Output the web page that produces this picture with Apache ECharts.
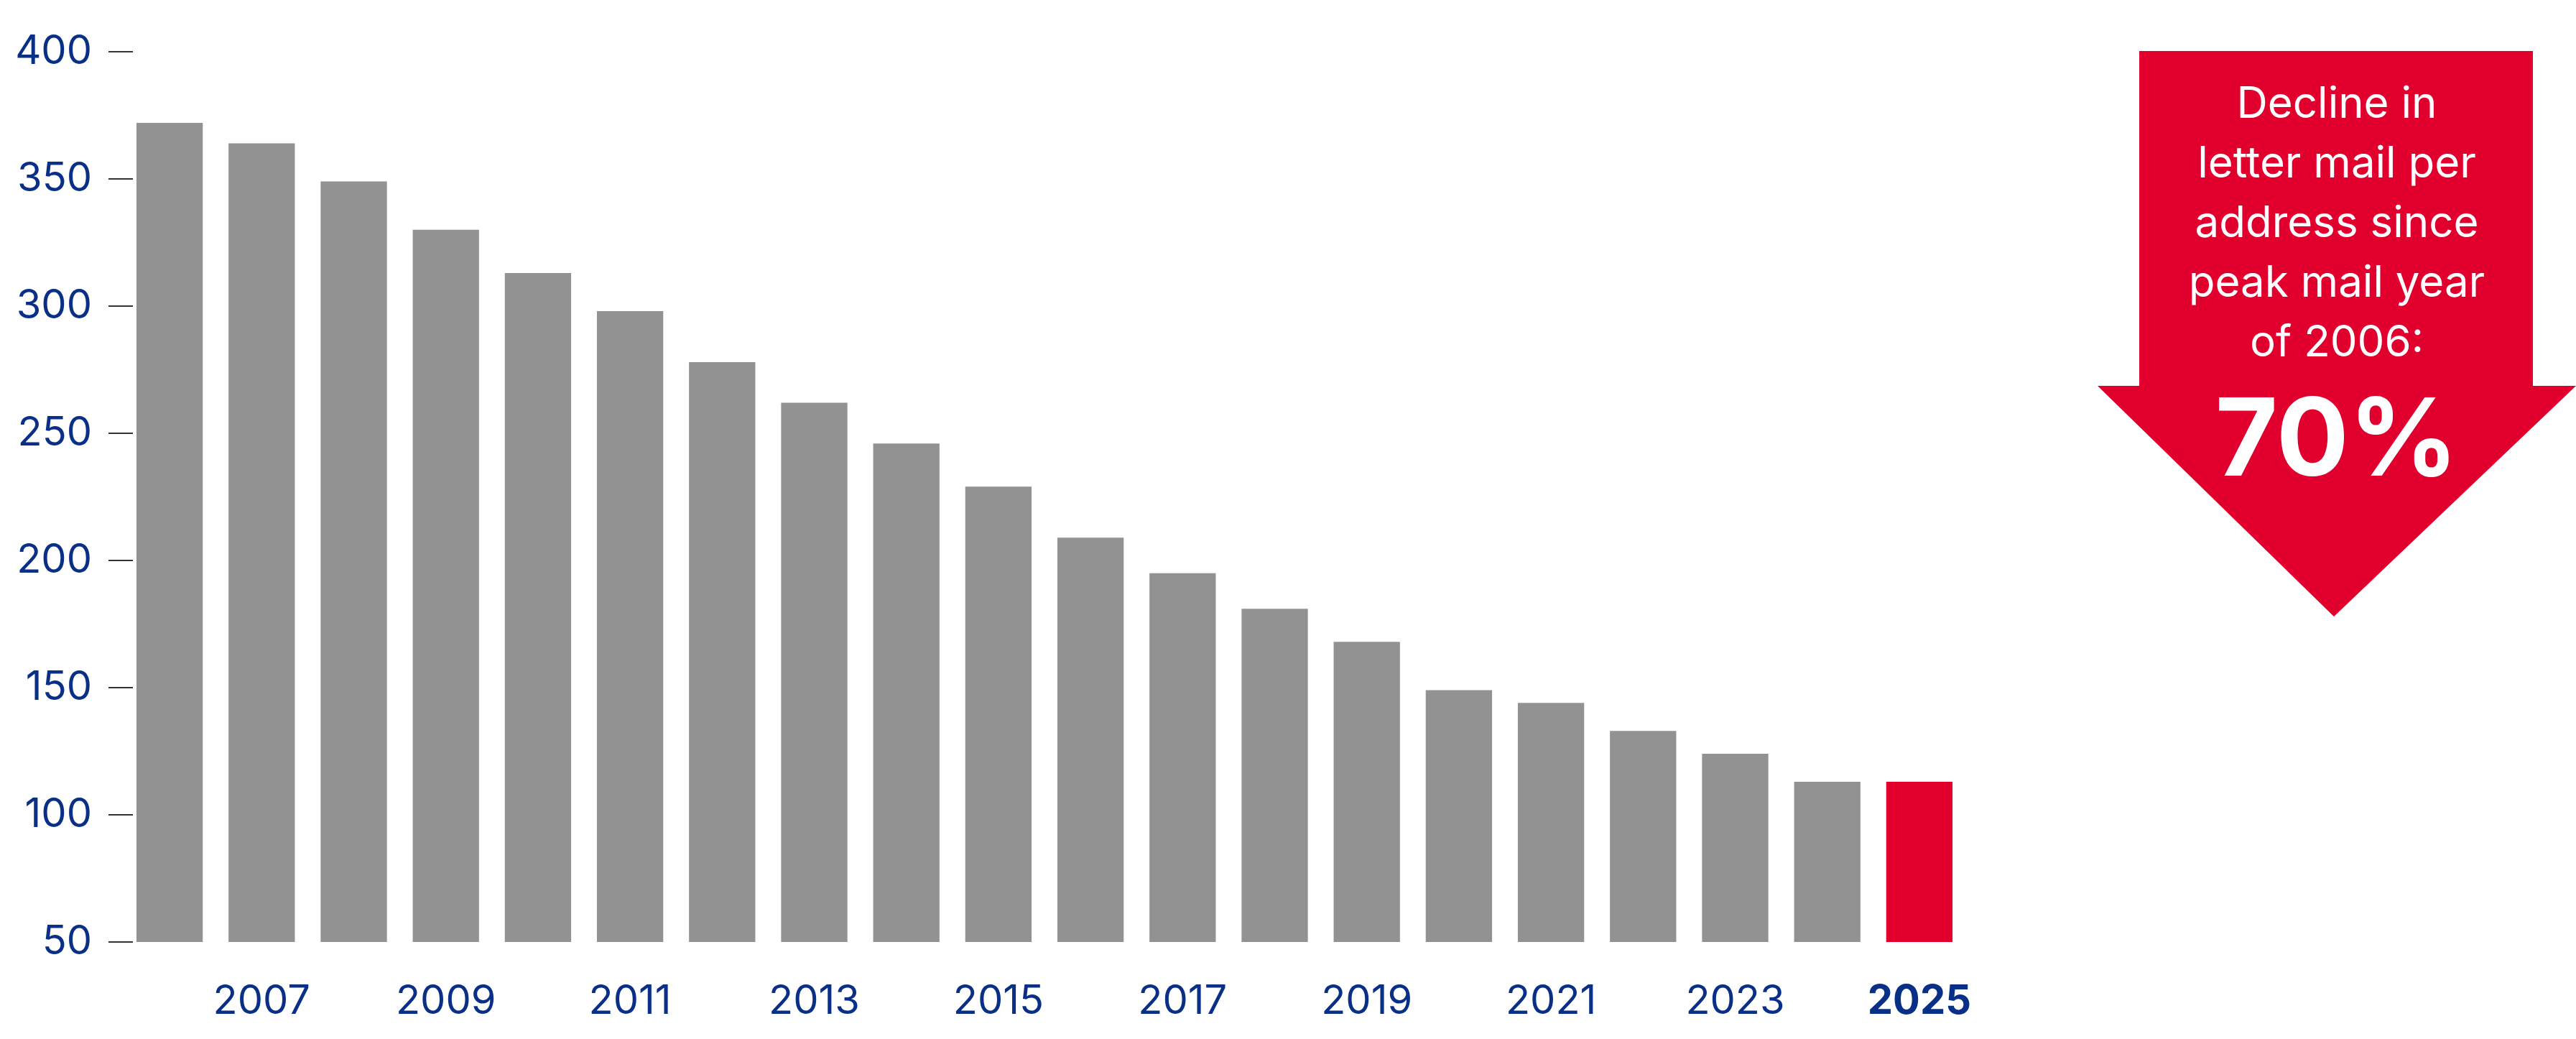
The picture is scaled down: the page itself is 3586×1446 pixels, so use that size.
<!DOCTYPE html>
<html>
<head>
<meta charset="utf-8">
<script src="https://cdn.jsdelivr.net/npm/echarts@6/dist/echarts.min.js"></script>
<style>
html,body{margin:0;padding:0;background:#fff;}
#main{width:3586px;height:1446px;}
</style>
</head>
<body>
<div id="main"></div>
<script>
var years = ['2006','2007','2008','2009','2010','2011','2012','2013','2014','2015','2016','2017','2018','2019','2020','2021','2022','2023','2024','2025'];
var lettersPerAddress = [372,364,349,330,313,298,278,262,246,229,209,195,181,168,149,144,133,124,113,113];
var yTicks = [50,100,150,200,250,300,350,400];
var calloutLines = ['Decline in','letter mail per','address since','peak mail year','of 2006:'];
var calloutValue = '70%';

var GRAY = '#929292', RED = '#E1002D', BLUE = '#0A2F86';
var FONT = 'Inter, "Noto Sans", sans-serif';

var chart = echarts.init(document.getElementById('main'), null, {renderer:'canvas'});

var barData = lettersPerAddress.map(function(v, i){
  return {value: v, itemStyle: {color: i === lettersPerAddress.length - 1 ? RED : GRAY}};
});

var textEls = calloutLines.map(function(t, i){
  return {type:'text', left: null, x: 3253, y: 146 + i*83,
    style:{text:t, fill:'#fff', font:'400 60px ' + FONT, textAlign:'center', textVerticalAlign:'middle'}};
});

chart.setOption({
  animation:false,
  backgroundColor:'#fff',
  grid:{left:172, right:850, top:72, bottom:135, containLabel:false},
  xAxis:{
    type:'category', data: years,
    axisLine:{show:false}, axisTick:{show:false},
    axisLabel:{
      interval: function(idx){ return idx % 2 === 1; },
      color: BLUE, fontSize:56, fontFamily:FONT, margin:55,
      formatter: function(v){ return v === years[years.length-1] ? '{b|' + v + '}' : v; },
      rich:{b:{fontWeight:'bold', color:BLUE, fontSize:56, fontFamily:FONT}}
    }
  },
  yAxis:{
    type:'value', min: yTicks[0], max: yTicks[yTicks.length-1], interval: yTicks[1]-yTicks[0],
    offset:-13,
    axisLine:{show:false},
    axisTick:{show:true, length:34, lineStyle:{color:'#333', width:2}},
    splitLine:{show:false},
    axisLabel:{color:BLUE, fontSize:56, fontFamily:FONT, margin:57}
  },
  series:[{
    type:'bar', data: barData, barCategoryGap:'28%'
  }],
  graphic:[
    {type:'polygon', shape:{points:[[2978,71],[3526,71],[3526,537],[3586,537],[3249,858],[2920,537],[2978,537]]},
     style:{fill:RED}}
  ].concat(textEls).concat([
    {type:'text', x:3253, y:617,
     style:{text:calloutValue, fill:'#fff', font:'bold 150px ' + FONT, textAlign:'center', textVerticalAlign:'middle'}}
  ])
});
</script>
</body>
</html>
